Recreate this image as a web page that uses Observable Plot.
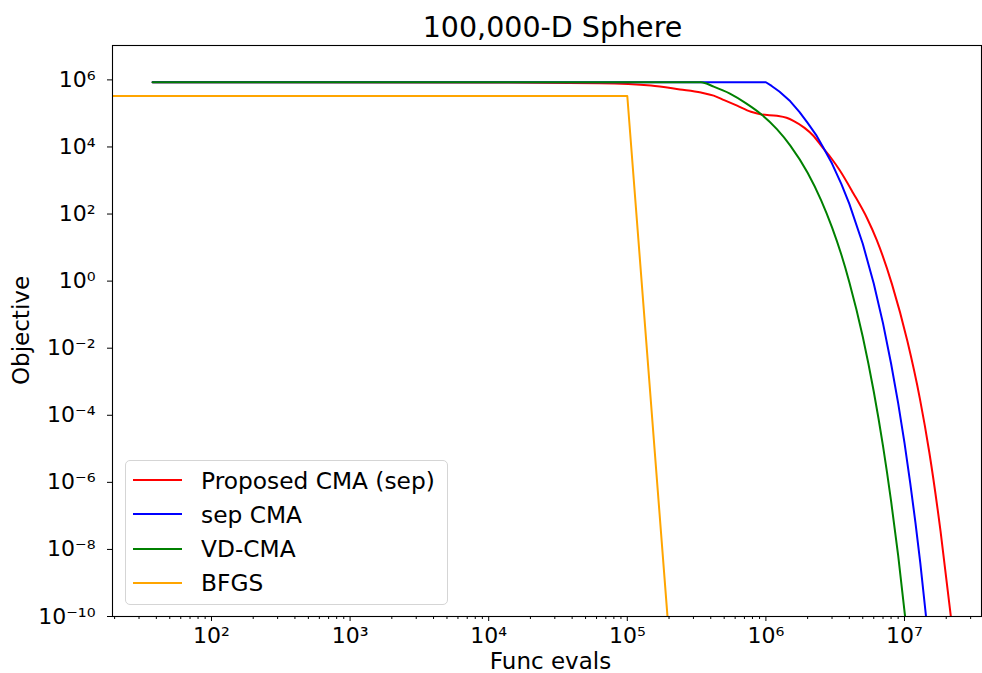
<!DOCTYPE html>
<html>
<head>
<meta charset="utf-8">
<script src="https://cdn.jsdelivr.net/npm/d3@7"></script>
<script src="https://cdn.jsdelivr.net/npm/@observablehq/plot@0.6"></script>
<style>
  body { margin: 0; background: #fff; }
  #wrap { position: relative; width: 982px; height: 673px; font-family: "DejaVu Sans", sans-serif; color: #000; overflow: hidden; background: #fff; }
  #title { position: absolute; z-index: 2; left: 118px; width: 869px; top: 14px; height: 28px; line-height: 28px; font-size: 28.5px; text-align: center; white-space: nowrap; }
  #chart { position: absolute; z-index: 1; left: 0; top: 38px; }
  #xlabel { position: absolute; z-index: 2; left: 116px; width: 869px; top: 651px; height: 21px; line-height: 21px; font-size: 23px; text-align: center; white-space: nowrap; }
  #ylabel { position: absolute; z-index: 2; left: -179px; top: 319px; width: 400px; height: 23px; line-height: 23px; font-size: 23px; text-align: center; transform: rotate(-90deg); white-space: nowrap; }
  #legend { position: absolute; z-index: 3; left: 125px; top: 460px; width: 323px; height: 145px; border: 1px solid #d5d5d5; border-radius: 5px; background: rgba(255,255,255,0.8); box-sizing: border-box; }
  .row { position: absolute; left: 0; height: 30px; width: 320px; }
  .row svg { position: absolute; left: 7px; top: 13px; }
  .row span { position: absolute; left: 75px; top: 3.5px; line-height: 23px; font-size: 23.3px; white-space: nowrap; }
</style>
</head>
<body>
<div id="wrap">
  <div id="chart"></div>
  <div id="title">100,000-D Sphere</div>
  <div id="xlabel">Func evals</div>
  <div id="ylabel">Objective</div>
  <div id="legend"></div>
</div>
<script>
// ---- data ----
const seriesNames = ["Proposed CMA (sep)", "sep CMA", "VD-CMA", "BFGS"];
const seriesColors = ["red", "blue", "green", "orange"];

const proposedEvals = [37.6, 1e4, 6.3e4, 1.48e5, 2.4e5, 3.4e5, 4.2e5, 5.0e5, 6.2e5, 7.8e5, 9.3e5, 1.2e6, 1.41e6, 1.58e6, 1.9e6, 2.19e6, 2.57e6, 3.0e6, 3.39e6, 4.27e6, 5.37e6, 6.3e6, 8.13e6, 1.05e7, 1.29e7, 1.51e7, 1.82e7, 2.16e7];
const proposedObj   = [8.5e5, 8.4e5, 7.9e5, 6.8e5, 5.2e5, 4.2e5, 3.4e5, 2.5e5, 1.7e5, 1.12e5, 9.3e4, 8.5e4, 7.4e4, 6.0e4, 3.7e4, 2.2e4, 9.5e3, 4.3e3, 2.1e3, 4.2e2, 75, 17, 0.8, 1.6e-2, 3.2e-4, 7.9e-6, 3.5e-8, 1e-10];

const sepEvals = [37.6, 1.0e6, 1.1e6, 1.25e6, 1.5e6, 1.75e6, 2.0e6, 2.3e6, 2.6e6, 3.0e6, 3.5e6, 4.0e6, 5.0e6, 6.0e6, 7.0e6, 8.0e6, 9.0e6, 1.0e7, 1.1e7, 1.2e7, 1.3e7, 1.43e7];
const sepObj   = [8.5e5, 8.5e5, 6.6e5, 4.5e5, 2.3e5, 1.1e5, 5.2e4, 2.3e4, 9.5e3, 3.2e3, 7.9e2, 2.0e2, 13, 0.85, 5.5e-2, 3.5e-3, 2.3e-4, 1.5e-5, 9.5e-7, 6.2e-8, 4.0e-9, 1e-10];

const vdEvals = [37.6, 3.4e5, 4.2e5, 5.5e5, 7.2e5, 9.3e5, 1.2e6, 1.5e6, 2.0e6, 2.5e6, 3.0e6, 3.5e6, 4.0e6, 5.0e6, 6.0e6, 7.0e6, 8.0e6, 9.0e6, 1.01e7];
const vdObj   = [8.5e5, 8.5e5, 6.3e5, 3.9e5, 2.0e5, 9.3e4, 3.4e4, 1.1e4, 1.7e3, 2.6e2, 40, 6.2, 0.93, 2.2e-2, 5.1e-4, 1.2e-5, 2.8e-7, 6.6e-9, 1e-10];

const bfgsEvals = [1, 1e5, 1.95e5];
const bfgsObj   = [3.3e5, 3.3e5, 1e-10];

const xTickValues = [1e2, 1e3, 1e4, 1e5, 1e6, 1e7];
const yTickValues = [1e-10, 1e-8, 1e-6, 1e-4, 1e-2, 1e0, 1e2, 1e4, 1e6];

// ---- build tables ----
const toRows = (name, xs, ys) => xs.map((x, i) => ({series: name, evals: x, obj: ys[i]}));
const allSeries = [
  toRows(seriesNames[0], proposedEvals, proposedObj),
  toRows(seriesNames[1], sepEvals, sepObj),
  toRows(seriesNames[2], vdEvals, vdObj),
  toRows(seriesNames[3], bfgsEvals, bfgsObj)
];
const curves = ["monotone-x", "linear", "monotone-x", "linear"];

const xDomain = [19.31, 3.594e7];
const yDomain = [1e-10, 1.06e7];

const supDigits = {"0":"⁰","1":"¹","2":"²","3":"³","4":"⁴","5":"⁵","6":"⁶","7":"⁷","8":"⁸","9":"⁹","-":"⁻"};
const sup = d => "10" + String(Math.round(Math.log10(d))).split("").map(c => supDigits[c]).join("");

const xMinor = [];
for (let k = 1; k <= 7; k++) for (let m = 2; m <= 9; m++) {
  const v = m * Math.pow(10, k);
  if (v >= xDomain[0] && v <= xDomain[1]) xMinor.push(v);
}

const chart = Plot.plot({
  width: 982,
  height: 635,
  marginTop: 7,
  marginBottom: 57,
  marginLeft: 112,
  marginRight: 1,
  x: {type: "log", domain: xDomain},
  y: {type: "log", domain: yDomain},
  style: {fontFamily: "DejaVu Sans, sans-serif", fontSize: "22px", color: "black", background: "transparent", overflow: "visible"},
  marks: [
    Plot.axisX(xMinor, {tickSize: 3, tickFormat: () => "", label: null, stroke: "black"}),
    Plot.axisX(xTickValues, {tickSize: 5, tickPadding: 6, tickFormat: sup, label: null, fontSize: 22, stroke: "black"}),
    Plot.axisY(yTickValues, {tickSize: 5, tickPadding: 12, tickFormat: sup, label: null, fontSize: 22, stroke: "black"}),
    ...allSeries.map((rows, i) => Plot.line(rows, {
      x: "evals", y: "obj", stroke: seriesColors[i], strokeWidth: 2, curve: curves[i], clip: true
    })),
    Plot.frame({stroke: "black", strokeWidth: 1.1})
  ]
});
document.getElementById("chart").appendChild(chart);

// ---- legend ----
const legend = document.getElementById("legend");
seriesNames.forEach((name, i) => {
  const row = document.createElement("div");
  row.className = "row";
  row.style.top = (4 + i * 34.3) + "px";
  row.innerHTML = `<svg width="50" height="4"><line x1="0" y1="2" x2="49" y2="2" stroke="${seriesColors[i]}" stroke-width="2"/></svg><span>${name}</span>`;
  legend.appendChild(row);
});
</script>
</body>
</html>
